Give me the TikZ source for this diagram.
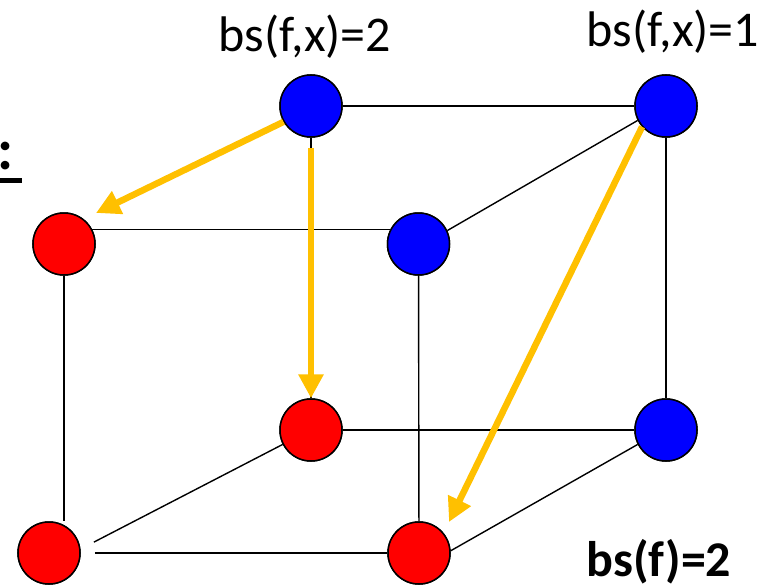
\documentclass[tikz,border=0pt]{standalone}
\usepackage{fontspec}
\setmainfont{Carlito}
\usetikzlibrary{arrows.meta,calc}
\definecolor{cubeorange}{HTML}{FFC000}
\definecolor{cubeblue}{HTML}{0000FF}
\definecolor{cubered}{HTML}{FF0000}
\begin{document}
\begin{tikzpicture}[x=1pt,y=-1pt,
  vtx/.style={circle,draw=black,line width=1.5pt,minimum size=62pt,inner sep=0pt},
  bluev/.style={vtx,fill=cubeblue},
  redv/.style={vtx,fill=cubered},
  edge/.style={draw=black,line width=1.4pt},
  flow/.style={draw=cubeorange,line width=6.5pt,-{Triangle[length=24pt,width=24pt]}},
  lbl/.style={anchor=base,inner sep=0pt,font=\fontsize{50}{50}\selectfont}]
\useasboundingbox (0,0) rectangle (778,586);
% vertices
\node[bluev] (tbl) at (311,106) {};
\node[bluev] (tbr) at (666,106) {};
\node[redv]  (ftl) at (64,244) {};
\node[bluev] (ftr) at (418.5,244) {};
\node[redv]  (bbl) at (311,430) {};
\node[bluev] (bbr) at (666,430) {};
\node[redv]  (fbl) at (49,553) {};
\node[redv]  (fbr) at (419,553) {};
% edges
\draw[edge] (tbl) -- (tbr);
\draw[edge] (tbl) -- (bbl);
\draw[edge] (tbr.207) -- (ftr.25);
\draw[edge] (tbr) -- (bbr);
\draw[edge] (ftl.27) -- (ftr.153);
\draw[edge] (ftl) -- (ftl |- fbl.north);
\draw[edge] (ftr) -- (fbr);
\draw[edge] (bbl) -- (bbr);
\draw[edge] (bbl.207) -- ($(fbl.20)+(15,0)$);
\draw[edge] (bbr.207) -- (fbr.4);
\draw[edge,shorten <=14pt] (fbl) -- (fbr);
% redraw vertices on top of edges
\node[bluev] at (tbl) {};
\node[bluev] at (tbr) {};
\node[redv]  at (ftl) {};
\node[bluev] at (ftr) {};
\node[redv]  at (bbl) {};
\node[bluev] at (bbr) {};
\node[redv]  at (fbl) {};
\node[redv]  at (fbr) {};
% orange arrows
\coordinate (tipA) at (96,213);
\coordinate (tipC) at (449,522);
\draw[flow] (tbl.210) -- (tipA);
\draw[flow,shorten <=10pt] (tbl.south) -- (bbl.north);
\draw[flow] (tbr.221) -- (tipC);
% labels
\node[lbl] (l1) at (305,52) {bs(f,x)=2};
\node[lbl] (l2) at (673,47) {bs(f,x)=1};
\node[lbl,font=\fontsize{50}{50}\selectfont\bfseries] (l3) at (659,576) {bs(f)=2};
\node[anchor=base west,inner sep=0pt,font=\fontsize{58}{58}\selectfont\bfseries] (colon) at (-3,169) {:};
\fill[black] (0,178) rectangle (22,183);
\end{tikzpicture}
\end{document}
